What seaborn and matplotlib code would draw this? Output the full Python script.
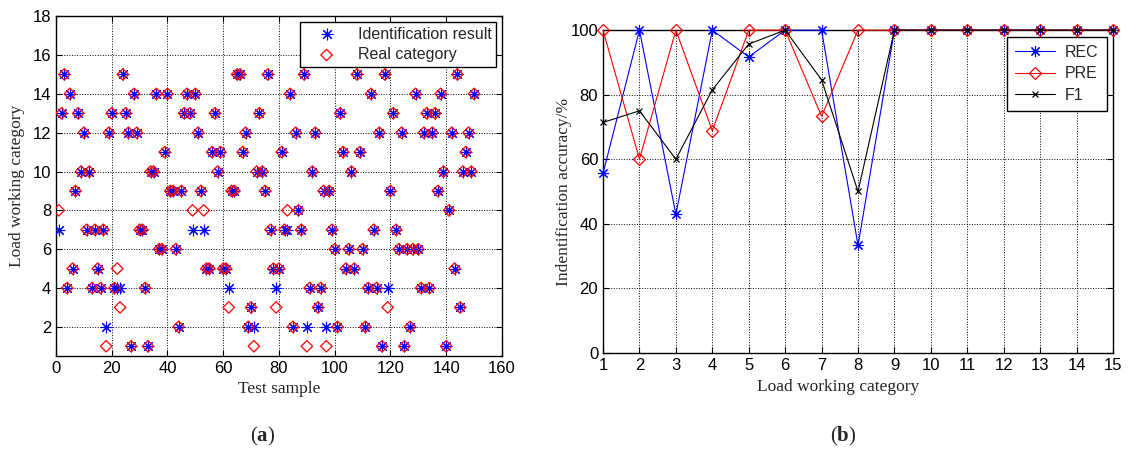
import numpy as np
import seaborn as sns
import matplotlib.pyplot as plt

# (a) 150 test samples: real category vs identification result
samples = np.arange(1, 151)
real_category = [8, 13, 15, 4, 14, 5, 9, 13, 10, 12,
                 7, 10, 4, 7, 5, 4, 7, 1, 12, 13,
                 4, 5, 3, 15, 13, 12, 1, 14, 12, 7,
                 7, 4, 1, 10, 10, 14, 6, 6, 11, 14,
                 9, 9, 6, 2, 9, 13, 14, 13, 8, 14,
                 12, 9, 8, 5, 5, 11, 13, 10, 11, 5,
                 5, 3, 9, 9, 15, 15, 11, 12, 2, 3,
                 1, 10, 13, 10, 9, 15, 7, 5, 3, 5,
                 11, 7, 8, 14, 2, 12, 8, 7, 15, 1,
                 4, 10, 12, 3, 4, 9, 1, 9, 7, 6,
                 2, 13, 11, 5, 6, 10, 5, 15, 11, 6,
                 2, 4, 14, 7, 4, 12, 1, 15, 3, 9,
                 13, 7, 6, 12, 1, 6, 2, 6, 14, 6,
                 4, 12, 13, 4, 12, 13, 9, 14, 10, 1,
                 8, 12, 5, 15, 3, 10, 11, 12, 10, 14]
identified = [7, 13, 15, 4, 14, 5, 9, 13, 10, 12,
              7, 10, 4, 7, 5, 4, 7, 2, 12, 13,
              4, 4, 4, 15, 13, 12, 1, 14, 12, 7,
              7, 4, 1, 10, 10, 14, 6, 6, 11, 14,
              9, 9, 6, 2, 9, 13, 14, 13, 7, 14,
              12, 9, 7, 5, 5, 11, 13, 10, 11, 5,
              5, 4, 9, 9, 15, 15, 11, 12, 2, 3,
              2, 10, 13, 10, 9, 15, 7, 5, 4, 5,
              11, 7, 7, 14, 2, 12, 8, 7, 15, 2,
              4, 10, 12, 3, 4, 9, 2, 9, 7, 6,
              2, 13, 11, 5, 6, 10, 5, 15, 11, 6,
              2, 4, 14, 7, 4, 12, 1, 15, 4, 9,
              13, 7, 6, 12, 1, 6, 2, 6, 14, 6,
              4, 12, 13, 4, 12, 13, 9, 14, 10, 1,
              8, 12, 5, 15, 3, 10, 11, 12, 10, 14]

# (b) per-category accuracy
categories = list(range(1, 16))
rec = [55.6, 100, 42.9, 100, 91.7, 100, 100, 33.3, 100, 100, 100, 100, 100, 100, 100]
pre = [100, 60, 100, 68.8, 100, 100, 73.3, 100, 100, 100, 100, 100, 100, 100, 100]
f1 = [71.4, 75, 60, 81.5, 95.7, 100, 84.6, 50, 100, 100, 100, 100, 100, 100, 100]

sns.set_style('ticks')
plt.rcParams['font.family'] = ['Liberation Sans', 'DejaVu Sans']
plt.rcParams['mathtext.fontset'] = 'custom'
plt.rcParams['mathtext.rm'] = 'Liberation Serif'
plt.rcParams['mathtext.bf'] = 'Liberation Serif:bold'
plt.rcParams['xtick.direction'] = 'in'
plt.rcParams['ytick.direction'] = 'in'
plt.rcParams['xtick.top'] = True
plt.rcParams['ytick.right'] = True

serif = {'family': 'Liberation Serif', 'size': 12.5}
asterisk = (8, 2, 0)

fig = plt.figure(figsize=(11.28, 4.5), dpi=100)
ax1 = fig.add_axes([0.0496, 0.209, 0.3954, 0.755])
ax2 = fig.add_axes([0.5346, 0.216, 0.4521, 0.717])

sns.scatterplot(x=samples, y=identified, marker=asterisk, s=60, color='blue',
                linewidths=0.8, label='Identification result', zorder=3, ax=ax1)
sns.scatterplot(x=samples, y=real_category, marker='D', s=34, facecolor='none',
                edgecolor='red', linewidths=0.9, label='Real category', zorder=4, ax=ax1)
ax1.set_xlim(0, 160)
ax1.set_ylim(0.5, 18)
ax1.set_xticks(range(0, 161, 20))
ax1.set_yticks(range(2, 19, 2))
ax1.set_xlabel('Test sample', fontdict=serif)
ax1.set_ylabel('Load working category', fontdict=serif)
ax1.yaxis.set_label_coords(-0.07, 0.5)
ax1.legend(loc='upper right', fancybox=False, edgecolor='black', framealpha=1,
           fontsize=11.5, borderaxespad=0.35, labelspacing=0.35, borderpad=0.3,
           handlelength=2.7, handletextpad=0.6)

sns.lineplot(x=categories, y=rec, color='blue', marker=asterisk, markersize=8,
             markeredgecolor='blue', markeredgewidth=0.8, linewidth=0.8,
             label='REC', clip_on=False, zorder=3, ax=ax2)
sns.lineplot(x=categories, y=pre, color='red', marker='D', markersize=6.5,
             markerfacecolor='none', markeredgecolor='red', markeredgewidth=0.9,
             linewidth=0.8, label='PRE', clip_on=False, zorder=4, ax=ax2)
sns.lineplot(x=categories, y=f1, color='black', marker='x', markersize=4,
             markeredgecolor='black', markeredgewidth=0.9, linewidth=0.8,
             label='F1', clip_on=False, zorder=5, ax=ax2)
ax2.set_xlim(1, 15)
ax2.set_ylim(0, 100)
ax2.set_xticks(categories)
ax2.set_yticks(range(0, 101, 20))
ax2.set_xlabel('Load working category', fontdict=serif, labelpad=0)
ax2.set_ylabel('Indentification accuracy/%', fontdict=serif)
ax2.yaxis.set_label_coords(-0.061, 0.5)
ax2.xaxis.set_label_coords(0.461, -0.082)
ax2.legend(loc='upper right', fancybox=False, edgecolor='black', framealpha=1,
           fontsize=11.5, borderaxespad=0.4, labelspacing=0.42, borderpad=0.5,
           handlelength=2.5, handletextpad=0.6)

for ax in (ax1, ax2):
    ax.grid(True, color='black', linestyle=':', linewidth=0.7)
    ax.set_axisbelow(True)
    ax.tick_params(labelsize=12, length=4, width=0.8, colors='black')
    for sp in ax.spines.values():
        sp.set_linewidth(1.0)
        sp.set_color('black')

fig.text(263 / 1128, 1 - 436 / 450, r'$(\mathbf{a})$', ha='center', va='center', fontsize=15)
fig.text(843 / 1128, 1 - 436 / 450, r'$(\mathbf{b})$', ha='center', va='center', fontsize=15)

fig.savefig('out.png', dpi=100)
